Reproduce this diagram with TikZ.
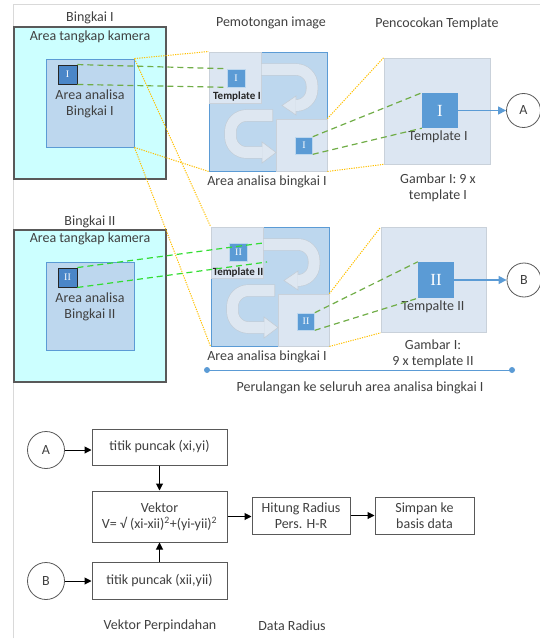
\documentclass[tikz,border=0pt]{standalone}
\usepackage{fontspec}
\setmainfont{Carlito}
\newfontfamily\romanfont{Liberation Serif}
\usetikzlibrary{arrows.meta}

\definecolor{txt}{HTML}{404040}
\definecolor{darktxt}{HTML}{262626}
\definecolor{frameline}{HTML}{595959}
\definecolor{camfill}{HTML}{CCFFFF}
\definecolor{roifill}{HTML}{BDD7EE}
\definecolor{roiline}{HTML}{5B9BD5}
\definecolor{tplblue}{HTML}{5B9BD5}
\definecolor{tpldark}{HTML}{4A86C8}
\definecolor{pale}{HTML}{DCE6F2}
\definecolor{paleline}{HTML}{C9D1DA}
\definecolor{arrowfill}{HTML}{DEE7F1}
\definecolor{arrowline}{HTML}{C4CDD6}
\definecolor{orangedot}{HTML}{FFC000}
\definecolor{olivegreen}{HTML}{70AD47}
\definecolor{brightgreen}{HTML}{33DD33}
\definecolor{pagegray}{HTML}{D9D9D9}

\tikzset{
  lbl/.style={text=txt, font=\fontsize{14}{16}\selectfont, align=center, inner sep=0pt},
  smalllbl/.style={text=darktxt, font=\bfseries\fontsize{11}{12}\selectfont, inner sep=0pt},
  cam/.style={draw=frameline, line width=1.2pt, fill=camfill, inner sep=0pt},
  roi/.style={draw=roiline, line width=0.9pt, fill=roifill, inner sep=0pt},
  mini/.style={draw=darktxt, line width=0.9pt, fill=tpldark, inner sep=0pt, text=white,
    font=\romanfont\fontsize{10}{10}\selectfont},
  minib/.style={draw=roifill, line width=0.6pt, fill=tplblue, inner sep=0pt, text=white,
    font=\romanfont\fontsize{10}{10}\selectfont},
  cropbox/.style={draw=roiline, line width=0.9pt, fill=roifill, inner sep=0pt},
  palebox/.style={draw=paleline, line width=0.7pt, fill=pale, inner sep=0pt},
  tplbox/.style={draw=paleline, line width=0.7pt, fill=pale, inner sep=0pt},
  bigsq/.style={fill=tplblue, inner sep=0pt, text=white,
    font=\romanfont\fontsize{17}{17}\selectfont},
  circ/.style={circle, draw=frameline, line width=0.8pt, fill=white, minimum size=34pt,
    inner sep=0pt, text=txt, font=\fontsize{14}{16}\selectfont},
  flowbox/.style={draw=frameline, line width=1pt, fill=white, inner sep=0pt, text=txt,
    align=center, font=\fontsize{14}{16}\selectfont},
  orangeline/.style={orangedot, line width=1pt, dash pattern=on 1.2pt off 1.2pt},
  greenline/.style={olivegreen, line width=1.2pt, dash pattern=on 6pt off 4pt},
  limeline/.style={brightgreen, line width=1.2pt, dash pattern=on 6pt off 4pt},
  bluearrow/.style={tplblue, line width=1.2pt, -{Triangle[length=8pt,width=8pt]}},
  flowarrow/.style={black, line width=1pt, -{Triangle[length=7pt,width=7pt]}},
  % two U-turn arrows showing the scan order inside a cropped area
  uturns/.pic={
    \path[draw=arrowline, line width=12.2pt, rounded corners=16pt]
      (52,17.5) -- (103,17.5) -- (103,53.5) -- (88,53.5);
    \filldraw[fill=arrowfill, draw=arrowline, line width=0.6pt]
      (87,44) -- (73,53.5) -- (87,63) -- cycle;
    \path[draw=arrowfill, line width=11pt, rounded corners=16pt]
      (52.6,17.5) -- (103,17.5) -- (103,53.5) -- (86.4,53.5);
    \path[draw=arrowline, line width=12.2pt, rounded corners=16pt]
      (64,63.5) -- (21.5,63.5) -- (21.5,100.5) -- (54,100.5);
    \filldraw[fill=arrowfill, draw=arrowline, line width=0.6pt]
      (53,90) -- (67,100.5) -- (53,111) -- cycle;
    \path[draw=arrowfill, line width=11pt, rounded corners=16pt]
      (63.4,63.5) -- (21.5,63.5) -- (21.5,100.5) -- (53.6,100.5);
  }
}

\begin{document}
\begin{tikzpicture}[x=1pt,y=-1pt]
\useasboundingbox (0,0) rectangle (540,639);

% page edge
\coordinate (pg0) at (13,638);
\coordinate (pg1) at (13,5);
\coordinate (pg2) at (540,5);
\draw[pagegray, line width=1pt] (pg0) -- (pg1) -- (pg2);

% ---------- frame I ----------
\node[lbl] (bk1) at (90,18) {Bingkai I};
\node[cam, minimum width=152pt, minimum height=152pt] (cam1) at (90,103) {};
\node[lbl] (cam1t) at (90,37) {Area tangkap kamera};
\node[roi, minimum size=88pt] (roi1) at (90,103) {};
\node[lbl] (roi1t) at (90,104) {Area analisa\\Bingkai I};
\node[mini, minimum size=19pt] (sq1) at (67.5,74.5) {I};

% ---------- frame II ----------
\node[lbl] (bk2) at (90,222) {Bingkai II};
\node[cam, minimum width=152pt, minimum height=152pt] (cam2) at (90,306) {};
\node[lbl] (cam2t) at (90,239) {Area tangkap kamera};
\node[roi, minimum size=88pt] (roi2) at (90,306) {};
\node[lbl] (roi2t) at (90,307) {Area analisa\\Bingkai II};
\node[mini, minimum size=19pt] (sq2) at (67.5,277.5) {II};

% ---------- headings ----------
\node[lbl] (h1) at (271,23) {Pemotongan image};
\node[lbl] (h2) at (437,24) {Pencocokan Template};

% ---------- cropped area I ----------
\node[cropbox, minimum width=118pt, minimum height=119pt] (crop1) at (268,111.5) {};
\node[palebox, minimum width=52pt, minimum height=51pt] (lt1) at (235,77.5) {};
\node[palebox, minimum width=51pt, minimum height=52pt] (rb1) at (301.5,145) {};
\pic at (209,52) {uturns};
\node[minib, minimum size=18pt] (sc1a) at (236,78) {I};
\node[minib, minimum size=17pt] (sc1b) at (304,145.5) {I};
\node[smalllbl] (tl1) at (237,97) {Template I};
\node[lbl] (c1t) at (267,182) {Area analisa bingkai I};

% ---------- cropped area II ----------
\node[cropbox, minimum width=118pt, minimum height=119pt] (crop2) at (270,286.5) {};
\node[palebox, minimum width=52pt, minimum height=51pt] (lt2) at (237,252.5) {};
\node[palebox, minimum width=51pt, minimum height=52pt] (rb2) at (303.5,320) {};
\pic at (211,227) {uturns};
\node[minib, minimum size=18pt] (sc2a) at (238.5,252.5) {II};
\node[minib, minimum size=17pt] (sc2b) at (306,321.5) {II};
\node[smalllbl] (tl2) at (238,273) {Template II};
\node[lbl] (c2t) at (267,357) {Area analisa bingkai I};

% ---------- template matching I ----------
\node[tplbox, minimum size=106pt] (tp1) at (437,111) {};
\node[bigsq, minimum width=36pt, minimum height=35pt] (bg1) at (440,110.5) {I};
\node[lbl] (tp1t) at (438,137) {Template I};
\node[lbl] (tp1c) at (438,188) {Gambar I: 9 x\\template I};
\node[circ] (ca1) at (523.5,110.5) {A};
\draw[bluearrow] (bg1.east) -- (ca1.west);

% ---------- template matching II ----------
\node[tplbox, minimum size=105pt] (tp2) at (433.5,280) {};
\node[bigsq, minimum size=36pt] (bg2) at (436,280) {II};
\node[lbl] (tp2t) at (433,307) {Tempalte II};
\node[lbl] (tp2c) at (433,354) {Gambar I:\\9 x template II};
\node[circ] (cb1) at (524,280) {B};
\draw[bluearrow] (bg2.east) -- (cb1.west);

% ---------- dotted zoom guides ----------
\draw[orangeline] (roi1.north east) -- (crop1.north west);
\draw[orangeline] (roi1.south east) -- (crop1.south west);
\draw[orangeline] (roi1.north east) -- (crop2.north west);
\draw[orangeline] (roi1.south east) -- (crop2.south west);
\draw[orangeline] (rb1.north east) -- (tp1.north west);
\draw[orangeline] (crop1.south east) -- (tp1.south west);
\draw[orangeline] (rb2.north east) -- (tp2.north west);
\draw[orangeline] (crop2.south east) -- (tp2.south west);

% ---------- dashed template guides ----------
\draw[greenline] (sq1.north east) -- (sc1a.north west);
\draw[greenline] (sq1.south east) -- (sc1a.south west);
\coordinate (g2a) at (263,243);
\coordinate (g2b) at (267,262);
\draw[limeline] (sq2.north east) -- (g2a);
\draw[limeline] (sq2.south east) -- (g2b);
\draw[greenline] (sc1b.north east) -- (bg1.north west);
\draw[greenline] (sc1b.south east) -- (bg1.south west);
\draw[greenline] (sc2b.north east) -- (bg2.north west);
\draw[greenline] (sc2b.south east) -- (bg2.south west);

% ---------- loop over the analysis area ----------
\coordinate (lpA) at (207,370);
\coordinate (lpB) at (512,370);
\draw[roiline, line width=1pt] (lpA) -- (lpB);
\fill[roiline] (lpA) circle (3pt);
\fill[roiline] (lpB) circle (3pt);
\node[lbl] (lpt) at (360,388) {Perulangan ke seluruh area analisa bingkai I};

% ---------- displacement vector and radius ----------
\node[circ, minimum size=37pt] (fa) at (46,450) {A};
\node[flowbox, minimum width=135pt, minimum height=36pt] (pa) at (159.5,447) {titik puncak (xi,yi)};
\node[flowbox, minimum width=135pt, minimum height=51pt] (vk) at (159.5,516.5)
  {Vektor\\V= √ (xi-xii)\textsuperscript{2}+(yi-yii)\textsuperscript{2}};
\node[flowbox, minimum width=135pt, minimum height=37pt] (pb) at (159.5,580.5) {titik puncak (xii,yii)};
\node[circ, minimum size=37pt] (fb) at (46,581) {B};
\node[flowbox, minimum width=98pt, minimum height=37pt] (hr) at (301,515.5) {Hitung Radius\\Pers. H-R};
\node[flowbox, minimum width=99pt, minimum height=37pt] (sb) at (424.5,515.5) {Simpan ke\\basis data};
\node[lbl] (vpt) at (160,626) {Vektor Perpindahan};
\node[lbl] (drt) at (292,626) {Data Radius};

\draw[flowarrow] (fa.east) -- (fa.east -| pa.west);
\draw[flowarrow] (fb.east) -- (fb.east -| pb.west);
\draw[flowarrow] (pa.south) -- (vk.north);
\draw[flowarrow] (pb.north) -- (vk.south);
\draw[flowarrow] (vk.east) -- (vk.east -| hr.west);
\draw[flowarrow] (hr.east) -- (sb.west);
\end{tikzpicture}
\end{document}
